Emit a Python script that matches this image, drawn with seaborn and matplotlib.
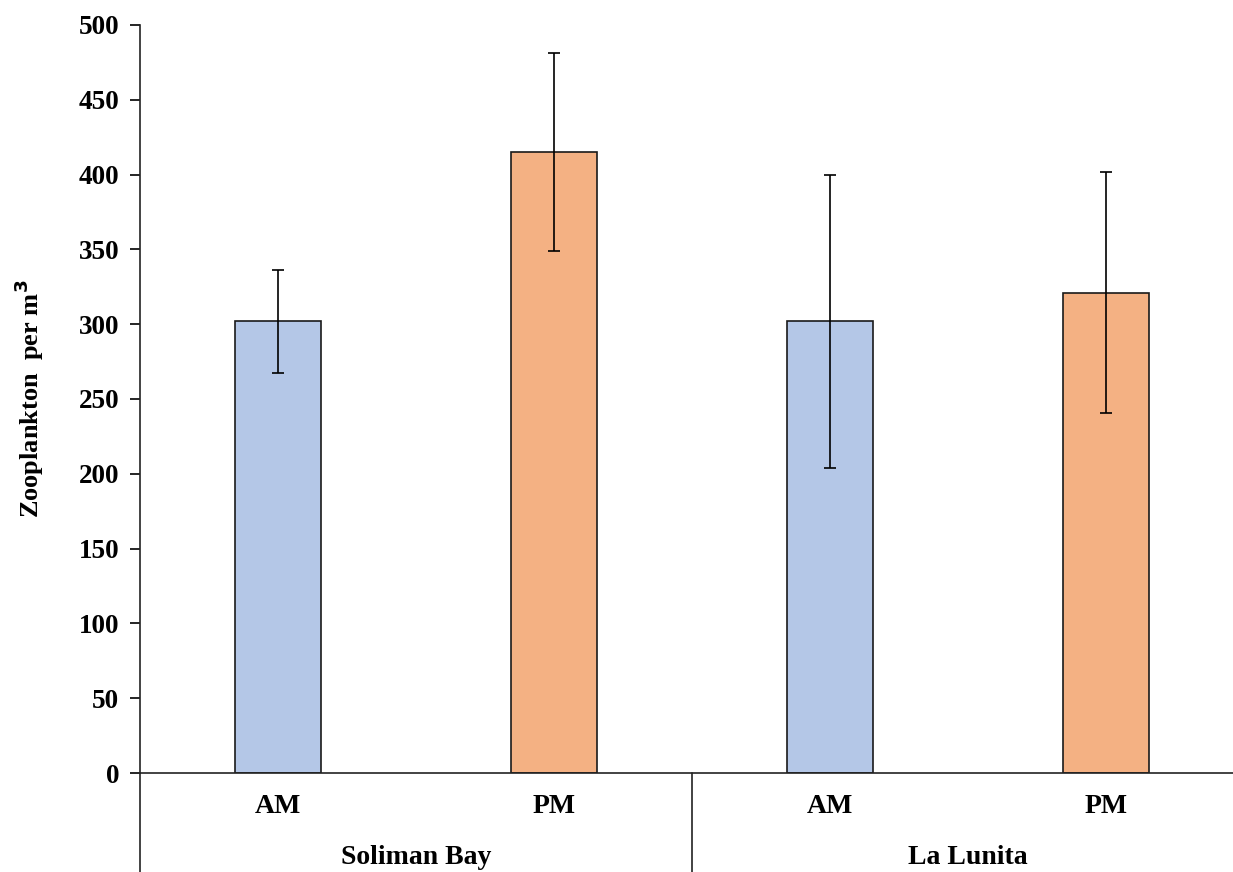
import matplotlib
matplotlib.use("Agg")
import matplotlib.pyplot as plt
import matplotlib.transforms as mtransforms
import seaborn as sns
import pandas as pd

# ---- data ----
sites = ["Soliman Bay", "Soliman Bay", "La Lunita", "La Lunita"]
times = ["AM", "PM", "AM", "PM"]
means = [302, 415, 302, 321]
errors = [34.5, 66, 98, 80.5]
group_labels = ["Soliman Bay", "La Lunita"]
yticks = [0, 50, 100, 150, 200, 250, 300, 350, 400, 450, 500]

sns.set_style("ticks")
plt.rcParams["font.family"] = ["Liberation Serif", "DejaVu Serif"]
plt.rcParams["font.weight"] = "bold"
plt.rcParams["text.color"] = "black"
plt.rcParams["axes.labelcolor"] = "black"
plt.rcParams["xtick.color"] = "black"
plt.rcParams["ytick.color"] = "black"

df = pd.DataFrame({
    "cat": [f"{s} {t}" for s, t in zip(sites, times)],
    "time": times,
    "value": means,
})

fig = plt.figure(figsize=(12.33, 8.72), dpi=100)
ax = fig.add_axes([140 / 1233, 1 - 773 / 872, (1244 - 140) / 1233, (773 - 25) / 872])

sns.barplot(data=df, x="cat", y="value", hue="time", dodge=False,
            palette={"AM": "#B4C7E7", "PM": "#F4B183"}, saturation=1, width=0.312,
            edgecolor="#1a1a1a", linewidth=1.2, errorbar=None, legend=False, ax=ax)

ax.errorbar(x=list(range(len(means))), y=means, yerr=errors, fmt="none",
            ecolor="black", elinewidth=1.2, capsize=4.3, capthick=1.2, zorder=5)

ax.set_ylim(0, 500)
ax.set_xlim(-0.5, 3.5)
ax.set_yticks(yticks)
ax.set_yticklabels([str(v) for v in yticks], fontsize=19.5, fontweight="bold")
ax.set_xticks(range(len(times)))
ax.set_xticklabels(times, fontsize=20, fontweight="bold")
ax.tick_params(axis="x", length=0, pad=15)
ax.tick_params(axis="y", length=7, width=1.2, pad=8, direction="out")
ax.set_xlabel("")
ax.set_ylabel("Zooplankton  per m$^\\mathbf{3}$", fontsize=19, fontweight="bold", labelpad=23)

for side in ["top", "right"]:
    ax.spines[side].set_visible(False)
for side in ["left", "bottom"]:
    ax.spines[side].set_linewidth(1.2)
    ax.spines[side].set_color("#222222")

# multi-level category axis: separators and group labels
trans = mtransforms.blended_transform_factory(ax.transData, ax.transAxes)
bottom_frac = -(872 - 773) / (773 - 25)
for xsep in [-0.5, 1.5, 3.5]:
    ax.plot([xsep, xsep], [0, bottom_frac], transform=trans, color="#222222",
            lw=1.2, clip_on=False)
for i, g in enumerate(group_labels):
    ax.text(2 * i + 0.5, -(857 - 773) / (773 - 25), g, transform=trans,
            ha="center", va="center", fontsize=20, fontweight="bold")

fig.savefig("out.png", dpi=100)
